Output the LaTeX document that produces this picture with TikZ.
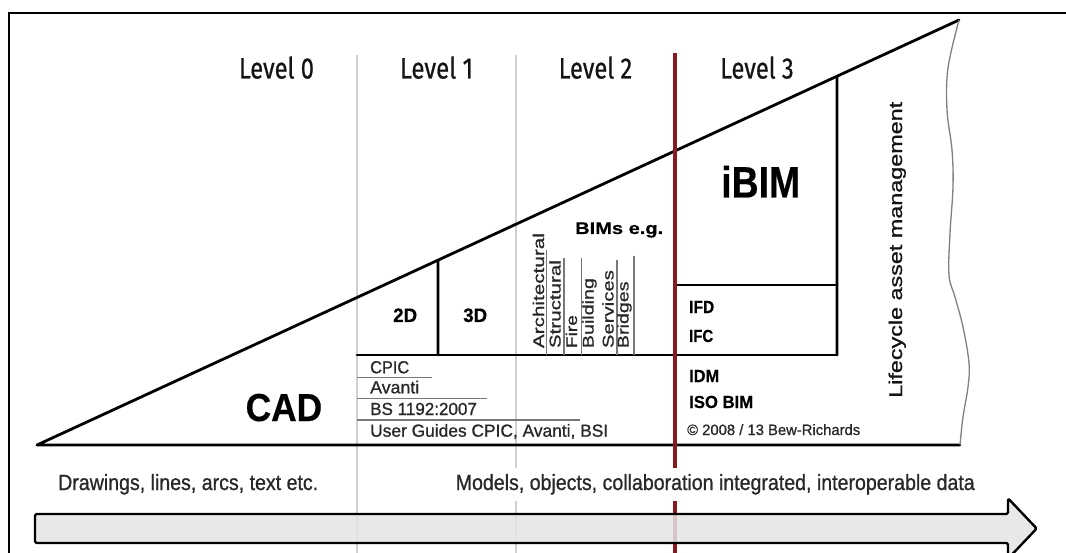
\documentclass[tikz,border=0pt]{standalone}
\usepackage{fontspec}
\setmainfont{Liberation Sans}
\newfontfamily\lvlfont[FakeBold=0.7]{Fira Sans}
\newfontfamily\regfont[FakeBold=0.9]{Liberation Sans}
\newfontfamily\boldfont[FakeBold=0.4]{Liberation Sans Bold}
\usetikzlibrary{calc}
\definecolor{redline}{RGB}{135,25,32}
\definecolor{grayline}{RGB}{208,208,208}
\definecolor{txt}{RGB}{20,20,20}
\definecolor{txtg}{RGB}{40,40,40}
\definecolor{ruleg}{RGB}{120,120,120}
\definecolor{arrowfill}{RGB}{228,228,228}
\newcommand\fitw[2]{\resizebox{#1pt}{\height}{#2}}
\begin{document}
\begin{tikzpicture}[x=1pt,y=-1pt,
  lvl/.style={inner sep=0, anchor=base, text=txt, font=\lvlfont\fontsize{29.5}{30}\selectfont},
  bsmall/.style={inner sep=0, anchor=base west, text=black, font=\boldfont\fontsize{17.5}{18}\selectfont},
  reglist/.style={inner sep=0, anchor=base west, text=txtg, font=\regfont\fontsize{17.5}{18}\selectfont},
  vlab/.style={inner sep=0, anchor=base west, rotate=90, text=txtg, font=\regfont\fontsize{15.5}{16}\selectfont},
  bottomtxt/.style={inner sep=0, text=txtg, font=\regfont\fontsize{22}{24}\selectfont},
  thick3/.style={line width=2.8pt, line cap=round, line join=round},
  grayrule/.style={draw=grayline, line width=1.4pt},
  thinrule/.style={draw=ruleg, line width=1.1pt}
]
\useasboundingbox (0,0) rectangle (1066,553);
\clip (0,0) rectangle (1066,553);
\fill[white] (0,0) rectangle (1066,553);

% outer frame
\draw[line width=2.4pt] (9,570) -- (9,13) -- (1080,13);

% column guide lines
\draw[grayrule] (357,55) -- (357,560);
\draw[grayrule] (516,55) -- (516,560);

% main triangle
\coordinate (A) at (37,445);
\coordinate (B) at (959,20);
\coordinate (C) at (960,445);
\draw[thick3] (C) -- (A) -- (B);
\draw[draw=gray, line width=1.3pt] plot[smooth, tension=0.6] coordinates {(959,20) (948,68) (947,110) (952,150) (953,187) (950,233) (949,275) (955,297) (963,327) (969,363) (968,387) (963,417) (960,445)};

% level 1 / 2 / 3 divisions
\coordinate (h2d) at ($(A)!{(438-37)/922}!(B)$);
\coordinate (hlc) at ($(A)!{(837-37)/922}!(B)$);
\draw[thick3] (357,355) -- (837,355);
\draw[thick3] (h2d) -- (438,355);
\draw[thick3] (hlc) -- (837,355);
\draw[thick3] (675,285) -- (837,285);

% BIM label separators
\draw[thinrule] (546.5,250) -- (546.5,355);
\draw[thinrule] (564,258) -- (564,355);
\draw[thinrule] (581.5,258) -- (581.5,355);
\draw[thinrule] (617,260) -- (617,355);
\draw[thinrule] (634,256) -- (634,355);

% list rules
\draw[thinrule] (357,377.7) -- (432,377.7);
\draw[thinrule] (357,398.3) -- (487,398.3);
\draw[thinrule] (357,420) -- (580,420);

% red level-3 line
\draw[draw=redline, line width=3.5pt] (675,53) -- (675,560);

% level headings
\node[lvl] (l0) at (276.5,78.5) {\fitw{75}{Level 0}};
\node[lvl] (l1) at (436.5,78.5) {\fitw{73}{Level 1}};
\node[lvl] (l2) at (595.5,78.5) {\fitw{73.5}{Level 2}};
\node[lvl] (l3) at (757,78.5) {\fitw{73.5}{Level 3}};

% texts inside triangle
\node[inner sep=0, anchor=base west, font=\boldfont\fontsize{39}{40}\selectfont] (cad) at (245.5,421) {\fitw{76.5}{CAD}};
\node[inner sep=0, anchor=base west, font=\boldfont\fontsize{19.5}{20}\selectfont] (t2d) at (393,322) {\fitw{24}{2D}};
\node[inner sep=0, anchor=base west, font=\boldfont\fontsize{19.5}{20}\selectfont] (t3d) at (463,322) {\fitw{24}{3D}};
\node[inner sep=0, anchor=base west, font=\boldfont\fontsize{16.8}{18}\selectfont] (bims) at (575,234) {\fitw{88}{BIMs e.g.}};
\node[inner sep=0, anchor=base west, font=\boldfont\fontsize{44}{46}\selectfont] (ibim) at (721,197.5) {\fitw{79}{iBIM}};

\node[vlab] (arch) at (544,348.3) {\fitw{115}{Architectural}};
\node[vlab] (struc) at (560.5,348.3) {\fitw{88}{Structural}};
\node[vlab] (fire) at (577,348.3) {\fitw{33}{Fire}};
\node[vlab] (build) at (593.5,348.3) {\fitw{70}{Building}};
\node[vlab] (serv) at (613.5,348.3) {\fitw{78}{Services}};
\node[vlab] (brid) at (628.5,348.3) {\fitw{66.7}{Bridges}};

\node[bsmall] (ifd) at (689,313) {\fitw{25}{IFD}};
\node[bsmall] (ifc) at (689,342) {\fitw{24}{IFC}};
\node[bsmall] (idm) at (689,382) {\fitw{30}{IDM}};
\node[bsmall] (iso) at (689,408) {\fitw{64}{ISO BIM}};
\node[inner sep=0, anchor=base west, text=txtg, font=\regfont\fontsize{15}{16}\selectfont] (copy) at (687,435) {\fitw{173}{© 2008 / 13 Bew-Richards}};

\node[reglist] (cpic) at (370,373.3) {\fitw{39}{CPIC}};
\node[reglist] (avanti) at (370,393.3) {\fitw{49}{Avanti}};
\node[reglist] (bs) at (370,415) {\fitw{106.7}{BS 1192:2007}};
\node[reglist] (ug) at (370,436.7) {\fitw{238}{User Guides CPIC, Avanti, BSI}};

\node[inner sep=0, anchor=base west, rotate=90, text=txt, font=\regfont\fontsize{18.5}{19}\selectfont] (life) at (902,398) {\fitw{296}{Lifecycle asset management}};

% bottom captions
\node[bottomtxt, anchor=base west] (draw) at (58,490) {\fitw{260}{Drawings, lines, arcs, text etc.}};
\node[bottomtxt, anchor=base east, fill=white, inner xsep=2pt, inner ysep=6pt] (models) at (977,490) {\fitw{519}{Models, objects, collaboration integrated, interoperable data}};

% big arrow
\draw[line width=2.4pt, fill=arrowfill, fill opacity=0.85, rounded corners=1.5pt, line join=round]
  (35,514) -- (1008,514) -- (1008,498.3) -- (1036.7,528.5) -- (1008,558.7) -- (1008,543) -- (35,543) -- cycle;
\end{tikzpicture}
\end{document}
